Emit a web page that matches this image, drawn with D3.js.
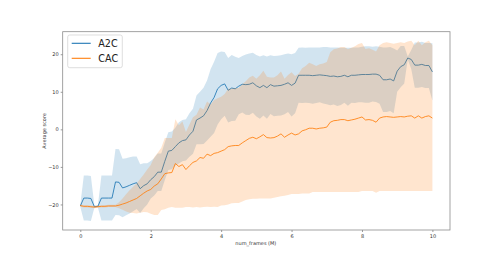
<!DOCTYPE html>
<html>
<head>
<meta charset="utf-8">
<script src="https://cdn.jsdelivr.net/npm/d3@7"></script>
<style>
  body { margin: 0; background: #fff; }
  text { font-family: "DejaVu Sans", sans-serif; }
</style>
</head>
<body>
<div id="chart-area"></div>
<script>
// Training frames (millions)
const frames = [0, 0.1, 0.2, 0.3, 0.4, 0.5, 0.6, 0.7, 0.8, 0.9,
  1, 1.1, 1.2, 1.3, 1.4, 1.5, 1.6, 1.7, 1.8, 1.9,
  2, 2.1, 2.2, 2.3, 2.4, 2.5, 2.6, 2.7, 2.8, 2.9,
  3, 3.1, 3.2, 3.3, 3.4, 3.5, 3.6, 3.7, 3.8, 3.9,
  4, 4.1, 4.2, 4.3, 4.4, 4.5, 4.6, 4.7, 4.8, 4.9,
  5, 5.1, 5.2, 5.3, 5.4, 5.5, 5.6, 5.7, 5.8, 5.9,
  6, 6.1, 6.2, 6.3, 6.4, 6.5, 6.6, 6.7, 6.8, 6.9,
  7, 7.1, 7.2, 7.3, 7.4, 7.5, 7.6, 7.7, 7.8, 7.9,
  8, 8.1, 8.2, 8.3, 8.4, 8.5, 8.6, 8.7, 8.8, 8.9,
  9, 9.1, 9.2, 9.3, 9.4, 9.5, 9.6, 9.7, 9.8, 9.9, 10];

const a2cMean = [-20.4, -18.3, -18.3, -18.4, -20.6, -20.5, -18.3, -18.3, -18.3, -18.3,
  -14.0, -14.1, -15.6, -15.3, -14.9, -14.5, -14.2, -15.8, -15.0, -14.5,
  -13.4, -12.6, -11.4, -11.4, -8.5, -5.8, -5.6, -4.6, -3.6, -3.0,
  -2.8, -1.5, -0.5, 2.5, 3.0, 3.6, 5.0, 7.0, 8.5, 10.8,
  11.7, 12.1, 10.4, 11.0, 10.8, 11.5, 12.0, 11.9, 12.0, 12.4,
  11.6, 11.1, 11.7, 11.1, 11.9, 11.5, 11.6, 11.7, 12.0, 12.4,
  11.7, 12.3, 14.4, 14.4, 14.4, 14.4, 14.3, 14.4, 14.5, 14.4,
  14.3, 14.1, 14.2, 14.0, 14.1, 14.4, 14.0, 14.4, 14.4, 14.5,
  14.6, 14.6, 14.6, 14.7, 14.7, 14.4, 13.2, 13.2, 13.4, 12.9,
  15.5, 16.7, 17.2, 19.0, 18.6, 17.1, 17.1, 17.3, 17.0, 17.0, 15.3];

const a2cStd = [0.3, 6.0, 6.0, 6.0, 0.3, 0.3, 6.0, 6.0, 6.0, 6.0,
  8.8, 8.8, 7.8, 7.6, 7.5, 7.3, 7.0, 6.5, 6.0, 5.5,
  5.0, 5.0, 5.0, 5.0, 5.0, 5.0, 5.0, 5.0, 5.5, 5.5,
  5.5, 5.8, 6.0, 6.5, 7.0, 7.5, 8.0, 9.0, 9.5, 9.5,
  9.0, 8.5, 8.6, 8.8, 8.5, 7.5, 7.5, 8.0, 8.2, 8.0,
  8.2, 8.3, 8.0, 8.3, 7.8, 8.0, 8.0, 8.0, 8.0, 7.8,
  8.3, 8.0, 7.3, 7.4, 7.3, 7.4, 7.5, 7.4, 7.3, 7.5,
  7.6, 7.7, 7.6, 7.8, 7.6, 7.3, 7.7, 7.3, 7.4, 7.3,
  7.4, 7.5, 7.5, 7.3, 7.4, 7.6, 8.6, 8.6, 8.5, 8.6,
  5.5, 5.5, 5.0, 0.4, 2.5, 6.0, 6.0, 6.0, 6.0, 6.0, 7.6];

const cacMean = [-20.3, -20.5, -20.5, -20.6, -20.7, -20.6, -20.5, -20.5, -20.4, -20.4,
  -20.4, -20.2, -19.9, -19.6, -19.2, -18.8, -18.4, -17.7, -17.0, -16.4,
  -16.0, -15.1, -14.5, -13.2, -11.8, -11.6, -11.5, -9.1, -9.9, -9.4,
  -10.7, -9.7, -8.8, -8.4, -7.5, -7.7, -6.6, -7.0, -6.4, -6.2,
  -5.8, -5.4, -4.6, -4.4, -4.3, -4.3, -3.6, -3.0, -2.4, -2.1,
  -2.5, -2.0, -1.4, -2.2, -2.3, -2.2, -1.8, -1.2, -2.1, -1.5,
  -1.0, -1.5, -1.2, -0.4, -0.1, 0.3, 0.3, 0.1, 0.3, 0.4,
  0.6, 1.9, 2.3, 2.4, 2.6, 2.6, 2.3, 2.5, 2.7, 3.0,
  3.3, 2.5, 2.6, 2.4, 1.9, 3.0, 3.3, 3.4, 3.3, 3.2,
  3.3, 3.4, 3.3, 3.5, 3.6, 3.0, 3.6, 3.0, 3.4, 3.6, 3.0];

const cacStd = [0.3, 0.3, 0.3, 0.3, 0.3, 0.3, 0.3, 0.3, 0.3, 0.3,
  0.3, 0.8, 1.5, 2.3, 3.0, 3.5, 4.0, 4.5, 5.0, 5.7,
  6.5, 7.7, 8.3, 8.3, 9.5, 9.3, 9.2, 11.8, 11.0, 11.5,
  10.0, 11.0, 12.0, 12.3, 13.3, 13.0, 14.0, 13.7, 14.2, 14.5,
  14.5, 14.8, 15.4, 15.3, 15.3, 15.3, 15.6, 15.8, 16.2, 16.4,
  16.0, 16.4, 17.0, 16.2, 16.1, 16.0, 16.2, 16.6, 15.6, 16.0,
  16.2, 15.7, 16.0, 16.7, 17.0, 17.4, 17.0, 16.8, 17.0, 17.1,
  17.3, 18.6, 19.0, 19.1, 19.3, 19.3, 19.0, 19.2, 19.4, 19.7,
  19.7, 18.9, 19.0, 18.8, 18.8, 19.4, 19.7, 19.8, 19.7, 19.6,
  19.7, 19.8, 19.7, 19.9, 20.0, 19.4, 20.0, 19.4, 19.8, 20.0, 19.4];

const xTicks = [0, 2, 4, 6, 8, 10];
const yTicks = [-20, -10, 0, 10, 20];
const seriesNames = ["A2C", "CAC"];
const seriesColors = ["#1f77b4", "#ff7f0e"];

// Figure layout
const W = 500, H = 259;
const plot = { left: 62.7, top: 31.7, right: 450, bottom: 230 };

const svg = d3.select("#chart-area").append("svg")
  .attr("width", W)
  .attr("height", H);

const series = [
  { name: seriesNames[0], color: seriesColors[0], mean: a2cMean, std: a2cStd },
  { name: seriesNames[1], color: seriesColors[1], mean: cacMean, std: cacStd }
].map(s => ({
  ...s,
  rows: frames.map((f, i) => ({ x: f, y: s.mean[i], lo: s.mean[i] - s.std[i], hi: s.mean[i] + s.std[i] }))
}));

// matplotlib style 5% margins
const xExt = d3.extent(frames);
const xPad = (xExt[1] - xExt[0]) * 0.05;
const yLo = d3.min(series, s => d3.min(s.rows, d => d.lo));
const yHi = d3.max(series, s => d3.max(s.rows, d => d.hi));
const yPad = (yHi - yLo) * 0.05;

const x = d3.scaleLinear().domain([xExt[0] - xPad, xExt[1] + xPad]).range([plot.left, plot.right]);
const y = d3.scaleLinear().domain([yLo - yPad, yHi + yPad]).range([plot.bottom, plot.top]);

// Bands and lines
const area = d3.area().x(d => x(d.x)).y0(d => y(d.lo)).y1(d => y(d.hi));
const line = d3.line().x(d => x(d.x)).y(d => y(d.y));

series.forEach(s => {
  svg.append("path")
    .attr("d", area(s.rows))
    .attr("fill", s.color)
    .attr("fill-opacity", 0.2);
  svg.append("path")
    .attr("d", line(s.rows))
    .attr("fill", "none")
    .attr("stroke", s.color)
    .attr("stroke-width", 0.95)
    .attr("stroke-opacity", 0.9);
});

// Axes
const xAxis = d3.axisBottom(x).tickValues(xTicks).tickSize(2).tickPadding(2).tickFormat(d3.format("d"));
const yAxis = d3.axisLeft(y).tickValues(yTicks).tickSize(2).tickPadding(2).tickFormat(d3.format("d"));

const gx = svg.append("g").attr("transform", `translate(0,${plot.bottom})`).call(xAxis);
const gy = svg.append("g").attr("transform", `translate(${plot.left},0)`).call(yAxis);
[gx, gy].forEach(g => {
  g.select(".domain").remove();
  g.selectAll(".tick line").attr("stroke", "#555").attr("stroke-width", 0.6);
  g.selectAll(".tick text").attr("fill", "#333").style("font-size", "5px");
});

// Frame
svg.append("rect")
  .attr("x", plot.left).attr("y", plot.top)
  .attr("width", plot.right - plot.left).attr("height", plot.bottom - plot.top)
  .attr("fill", "none")
  .attr("stroke", "#8c8c8c")
  .attr("stroke-width", 0.8);

// Axis labels
svg.append("text")
  .attr("x", (plot.left + plot.right) / 2 - 0.5)
  .attr("y", 244.5)
  .attr("text-anchor", "middle")
  .attr("fill", "#333")
  .style("font-size", "5px")
  .text("num_frames (M)");

svg.append("text")
  .attr("transform", `translate(45.5,${(plot.top + plot.bottom) / 2}) rotate(-90)`)
  .attr("text-anchor", "middle")
  .attr("fill", "#333")
  .style("font-size", "5px")
  .text("Average score");

// Legend
const legend = svg.append("g").attr("transform", "translate(67.7,35)");
legend.append("rect")
  .attr("width", 54.6).attr("height", 32.7)
  .attr("rx", 2)
  .attr("fill", "#fff").attr("fill-opacity", 0.8)
  .attr("stroke", "#d0d0d0").attr("stroke-width", 0.7);

series.forEach((s, i) => {
  const ly = 8.3 + i * 15;
  legend.append("line")
    .attr("x1", 4).attr("x2", 23)
    .attr("y1", ly).attr("y2", ly)
    .attr("stroke", s.color)
    .attr("stroke-width", 1.1);
  legend.append("text")
    .attr("x", 30.6).attr("y", ly)
    .attr("dy", "0.36em")
    .attr("fill", "#222")
    .style("font-size", "9.6px")
    .text(s.name);
});
</script>
</body>
</html>
